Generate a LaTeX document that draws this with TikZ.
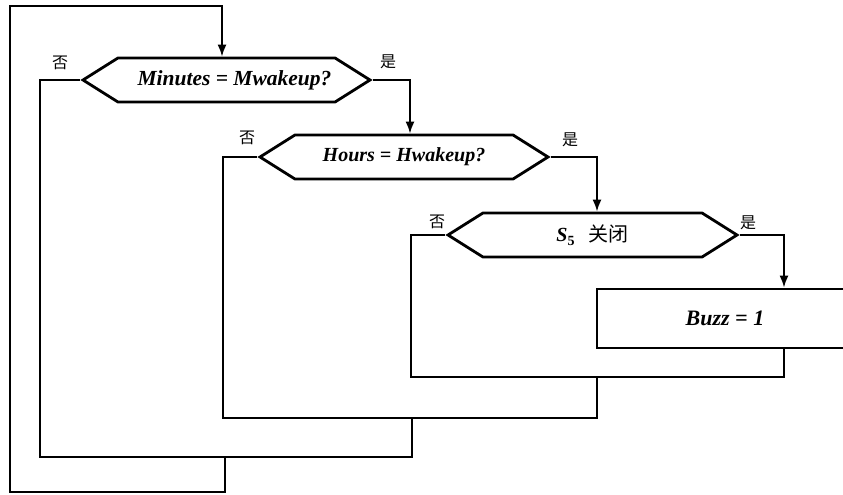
\documentclass[tikz,border=0pt]{standalone}
\usepackage{fontspec}
\setmainfont{Liberation Serif}
\newfontfamily\cjk{Noto Sans CJK SC}
\usetikzlibrary{shapes.symbols,arrows.meta}
\tikzset{
  test/.style={draw, line width=2.8pt, shape=signal, signal to=west and east,
    signal pointer angle=64.4, minimum height=44pt, inner sep=0pt,
    font=\fontsize{20}{24}\selectfont\bfseries\itshape},
  act/.style={draw, line width=2.8pt, rectangle, minimum width=256pt,
    minimum height=59pt, font=\fontsize{22}{26}\selectfont\bfseries\itshape},
  flow/.style={line width=1.8pt},
  go/.style={flow, -{Latex[length=12pt,width=9pt]}},
  yn/.style={font=\cjk\fontsize{16}{18}\selectfont},
}
\begin{document}
\begin{tikzpicture}[x=1pt,y=-1pt]
  \clip (0,0) rectangle (843,495);

  % 判断框
  \node[test, minimum width=287pt] (d1) at (226.5,80)
    {\fontsize{21.5}{24}\selectfont\hspace{16pt}Minutes = Mwakeup?};
  \node[test, minimum width=288pt] (d2) at (404,157) {Hours = Hwakeup?};
  \node[test, minimum width=289pt] (d3) at (592.5,235)
    {S{\upshape\fontsize{14}{14}\selectfont\raisebox{-4pt}{5}}\hspace{14pt}{\cjk\mdseries 关闭}};

  % 处理框
  \node[act] (buzz) at (725,318.5) {Buzz = 1};

  % 是/否
  \node[yn] (no1) at (60,63) {否};
  \node[yn] (yes1) at (388,62) {是};
  \node[yn] (no2) at (247,138) {否};
  \node[yn] (yes2) at (570,140) {是};
  \node[yn] (no3) at (437,222) {否};
  \node[yn] (yes3) at (748,223) {是};

  % 汇合点
  \coordinate (j3l) at (411,377);
  \coordinate (j3r) at (784,377);
  \coordinate (j3) at (597,377);
  \coordinate (j2l) at (223,418);
  \coordinate (j2r) at (597,418);
  \coordinate (j2) at (412,418);
  \coordinate (j1l) at (40,457);
  \coordinate (j1r) at (412,457);
  \coordinate (j1) at (225,457);
  \coordinate (j0) at (225,492);
  \coordinate (c0) at (10,492);
  \coordinate (c1) at (10,6);

  % 连线
  \draw[go] (d1.east) -| ([xshift=6pt]d2.north);
  \draw[go] (d2.east) -| ([xshift=4.5pt]d3.north);
  \draw[go] (d3.east) -| ([xshift=59pt]buzz.north);
  \draw[flow] ([xshift=59pt]buzz.south) -- (j3r) -- (j3l) |- (d3.west);
  \draw[flow] (j3) -- (j2r) -- (j2l) |- (d2.west);
  \draw[flow] (j2) -- (j1r) -- (j1l) |- (d1.west);
  \draw[go] (j1) -- (j0) -- (c0) -- (c1) -| ([xshift=-4.5pt]d1.north);
\end{tikzpicture}
\end{document}
